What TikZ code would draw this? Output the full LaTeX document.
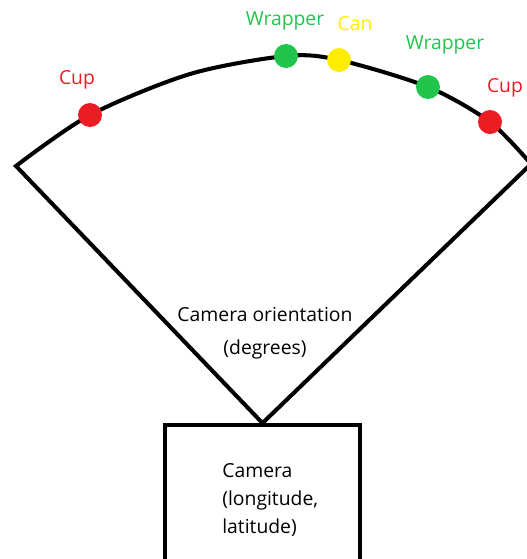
\documentclass[tikz,border=0pt]{standalone}
\usepackage{fontspec}
\setmainfont{Open Sans}
\definecolor{cupred}{RGB}{237,28,36}
\definecolor{wrapgreen}{RGB}{34,197,76}
\definecolor{canyellow}{RGB}{255,237,0}

\begin{document}
\begin{tikzpicture}[x=0.02cm, y=-0.02cm,
    dot/.style={circle, inner sep=0pt, minimum size=0.48cm},
    lbl/.style={inner sep=0pt, font=\fontsize{11}{16}\selectfont},
    edge/.style={line width=2.3pt, line join=miter}]

    % Fix the frame to the size of the picture
    \useasboundingbox (0,0) rectangle (527,559);
    \clip (0,0) rectangle (527,559);

    % The camera box, its lower edge runs off the page
    \node[draw, line width=2.2pt, minimum width=3.9cm, minimum height=3cm] (camera) at (262.5,500) {};
    % Text inside the box, set flush left
    \node[lbl, align=left, anchor=west] (camtxt) at (222,500) {Camera\\(longitude,\\latitude)};

    % Tip of the field of view sits on top of the box
    \coordinate (apex) at (camera.north);
    % Left and right ends of the arc
    \coordinate (L) at (16,166);
    \coordinate (R) at (531,164);

    % Points along the arc where objects were seen
    \coordinate (p1) at (90,115);
    \coordinate (p2) at (286,56);
    \coordinate (p3) at (339,60);
    \coordinate (p4) at (428,87);
    \coordinate (p5) at (490,122);

    % Field of view: two straight sides and the arc
    \draw[edge] (apex) -- plot[smooth, tension=0.5] coordinates {(L) (p1) (190,74) (p2) (p3) (p4) (p5) (R)} -- cycle;

    % Objects on the arc
    \node[dot, fill=cupred] (cup1) at (p1) {};
    \node[dot, fill=wrapgreen] (wrap1) at (p2) {};
    \node[dot, fill=canyellow] (can) at (p3) {};
    \node[dot, fill=wrapgreen] (wrap2) at (p4) {};
    \node[dot, fill=cupred] (cup2) at (p5) {};

    % Place labels as they appear in the image
    \node[lbl, text=cupred] (cup1lbl) at (77,80) {Cup};
    \node[lbl, text=wrapgreen] (wrap1lbl) at (285,21) {Wrapper};
    \node[lbl, text=canyellow] (canlbl) at (355,24) {Can};
    \node[lbl, text=wrapgreen] (wrap2lbl) at (445,45) {Wrapper};
    \node[lbl, text=cupred] (cup2lbl) at (505,88) {Cup};

    \node[lbl, align=center, font=\fontsize{11}{18.7}\selectfont] (orient) at (265,333) {Camera orientation\\(degrees)};

\end{tikzpicture}
\end{document}
